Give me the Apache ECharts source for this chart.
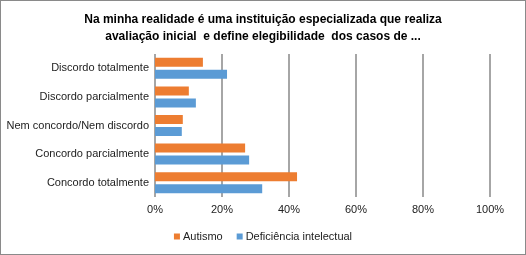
<!DOCTYPE html>
<html>
<head>
    <meta charset="utf-8">
    <title>Chart</title>
    <script src="https://cdn.jsdelivr.net/npm/echarts@6/dist/echarts.min.js"></script>
    <style>
        body { margin: 0; }
        #main { width: 524px; height: 253px; border: 1px solid #8a8a8a; }
    </style>
</head>
<body>
    <div id="main"></div>
    <script type="text/javascript">
// categories listed bottom to top
var categories = ['Concordo totalmente', 'Concordo parcialmente', 'Nem concordo/Nem discordo', 'Discordo parcialmente', 'Discordo totalmente'];
var autismo = [42.4, 26.9, 8.3, 10.1, 14.3];
var deficiencia = [32.0, 28.1, 8.0, 12.2, 21.5];
var tickLabels = ['0%', '20%', '40%', '60%', '80%', '100%'];

var myChart = echarts.init(document.getElementById('main'));
var font = 'Liberation Sans, Arial, sans-serif';

myChart.setOption({
    animation: false,
    color: ['#ED7D31', '#5B9BD5'],
    title: {
        text: 'Na minha realidade é uma instituição especializada que realiza\navaliação inicial  e define elegibilidade  dos casos de ...',
        left: 'center',
        top: 5,
        textStyle: { fontFamily: font, fontSize: 12, fontWeight: 'bold', color: '#000', lineHeight: 17 }
    },
    legend: {
        bottom: 7,
        left: 'center',
        itemWidth: 6,
        itemHeight: 6,
        itemGap: 14,
        icon: 'rect',
        textStyle: { fontFamily: font, fontSize: 11, color: '#222', padding: [0, 0, 0, -2] },
        data: ['Autismo', 'Deficiência intelectual']
    },
    grid: {
        left: 154,
        right: 35,
        top: 53,
        bottom: 57
    },
    xAxis: {
        type: 'value',
        min: 0,
        max: 100,
        interval: 20,
        axisLine: { show: false },
        axisTick: { show: false },
        splitLine: { lineStyle: { color: '#888', width: 1.5 } },
        axisLabel: {
            fontFamily: font, fontSize: 11, color: '#222', margin: 7,
            formatter: function (v) { return tickLabels[v / 20]; }
        }
    },
    yAxis: {
        type: 'category',
        data: categories,
        axisLine: { show: false },
        axisTick: { show: false },
        axisLabel: { fontFamily: font, fontSize: 11, color: '#222', margin: 6 }
    },
    series: [
        {
            name: 'Autismo',
            type: 'bar',
            barWidth: 9,
            barGap: '33%',
            data: autismo
        },
        {
            name: 'Deficiência intelectual',
            type: 'bar',
            barWidth: 9,
            data: deficiencia
        }
    ]
});
    </script>
</body>
</html>
